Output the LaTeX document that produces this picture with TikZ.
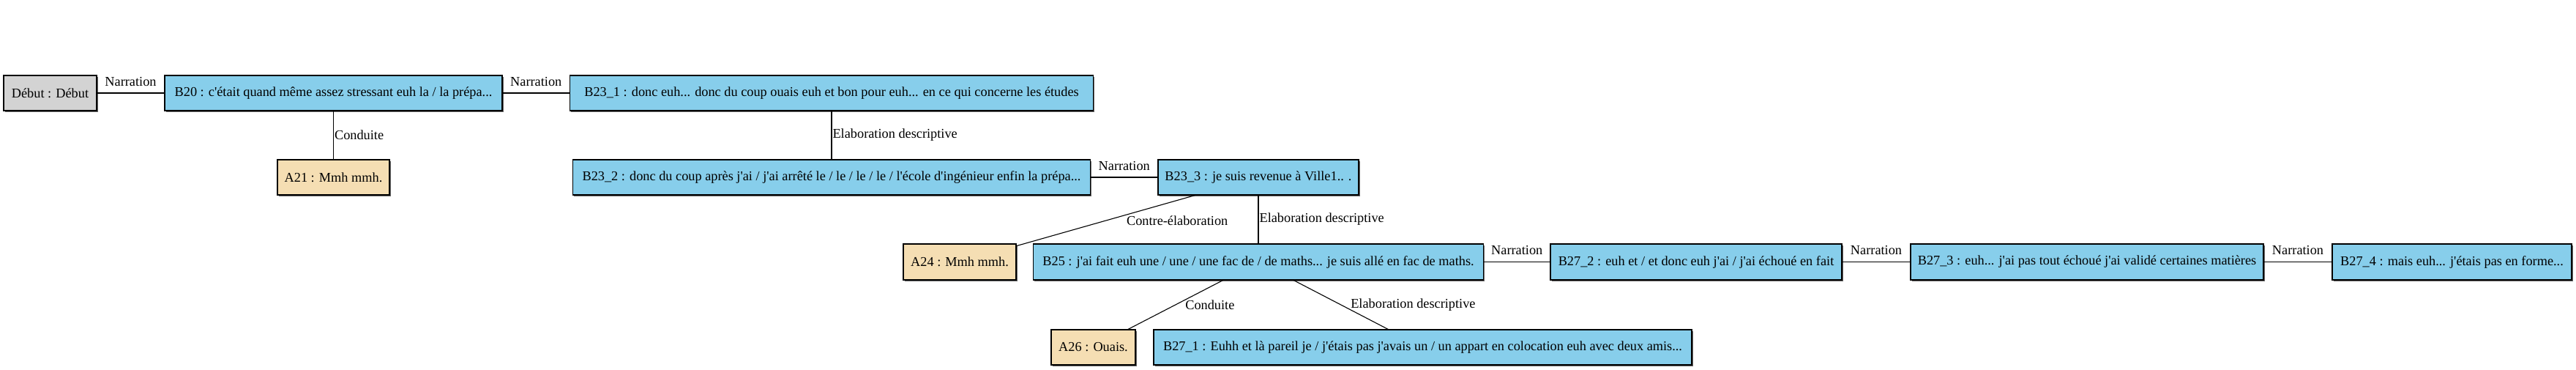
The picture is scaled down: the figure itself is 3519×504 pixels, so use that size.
\documentclass[tikz,border=0pt]{standalone}
\usepackage{fontspec}
\setmainfont{Liberation Serif}[Ligatures=TeXOff]
\usetikzlibrary{shadows}
\definecolor{bleu}{HTML}{87CEEB}
\definecolor{gris}{HTML}{D3D3D3}
\definecolor{paille}{HTML}{F5DEB3}
\begin{document}
\begin{tikzpicture}[x=1pt,y=-1pt,
  txt/.style={font=\fontsize{18.3}{21}\selectfont},
  box/.style={txt, draw=black, line width=1.1pt, inner sep=0pt, minimum height=48pt,
    drop shadow={shadow xshift=1.6pt, shadow yshift=-1.6pt, fill=black!60, opacity=1}},
  bbox/.style={box, fill=bleu},
  abox/.style={box, fill=paille},
  gbox/.style={box, fill=gris},
  edge/.style={draw=black, line width=1.1pt},
  hlab/.style={txt, midway, above=9pt, inner sep=0pt},
  vlab/.style={txt, midway, anchor=west, inner sep=1pt},
  dlab/.style={txt, midway, anchor=west, inner sep=0pt}]
\fill[white] (0,0) rectangle (3519,504);
\useasboundingbox (0,0) rectangle (3519,504);
% row 1
\node[gbox, minimum width=127pt] (deb) at (68.5,127) {Début : Début};
\node[bbox, minimum width=461pt] (b20) at (455.5,127) {B20 : c'était quand même assez stressant euh la / la prépa...};
\node[bbox, minimum width=715pt] (b231) at (1136,127) {B23\_1 : donc euh... donc du coup ouais euh et bon pour euh... en ce qui concerne les études};
% row 2
\node[abox, minimum width=153pt] (a21) at (455.5,242) {A21 : Mmh mmh.};
\node[bbox, minimum width=707pt] (b232) at (1136,242) {B23\_2 : donc du coup après j'ai / j'ai arrêté le / le / le / le / l'école d'ingénieur enfin la prépa...};
\node[bbox, minimum width=274pt] (b233) at (1719,242) {B23\_3 : je suis revenue à Ville1.. .};
% row 3
\node[abox, minimum width=154pt, minimum height=49pt] (a24) at (1311,357.5) {A24 : Mmh mmh.};
\node[bbox, minimum width=615pt, minimum height=49pt] (b25) at (1719,357.5) {B25 : j'ai fait euh une / une / une fac de / de maths... je suis allé en fac de maths.};
\node[bbox, minimum width=398pt, minimum height=49pt] (b272) at (2317,357.5) {B27\_2 : euh et / et donc euh j'ai / j'ai échoué en fait};
\node[bbox, minimum width=482pt, minimum height=49pt] (b273) at (2851,357.5) {B27\_3 : euh... j'ai pas tout échoué j'ai validé certaines matières};
\node[bbox, minimum width=327pt, minimum height=49pt] (b274) at (3349.5,357.5) {B27\_4 : mais euh... j'étais pas en forme...};
% row 4
\node[abox, minimum width=115pt] (a26) at (1493.5,474) {A26 : Ouais.};
\node[bbox, minimum width=735pt] (b271) at (1943.5,474) {B27\_1 : Euhh et là pareil je / j'étais pas j'avais un / un appart en colocation euh avec deux amis...};
% edges
\draw[edge] (deb) -- node[hlab]{Narration} (b20);
\draw[edge] (b20) -- node[hlab]{Narration} (b231);
\draw[edge] (b20) -- node[vlab]{Conduite} (a21);
\draw[edge] (b231) -- node[vlab]{Elaboration descriptive} (b232);
\draw[edge] (b232) -- node[hlab]{Narration} (b233);
\draw[edge] (b233) -- node[dlab, xshift=28pt]{Contre-élaboration} (a24);
\draw[edge] (b233) -- node[vlab]{Elaboration descriptive} (b25);
\draw[edge] (b25) -- node[hlab]{Narration} (b272);
\draw[edge] (b272) -- node[hlab]{Narration} (b273);
\draw[edge] (b273) -- node[hlab]{Narration} (b274);
\draw[edge] (b25) -- node[dlab, xshift=13pt]{Conduite} (a26);
\draw[edge] (b25) -- node[dlab, xshift=13pt]{Elaboration descriptive} (b271);
\end{tikzpicture}
\end{document}
